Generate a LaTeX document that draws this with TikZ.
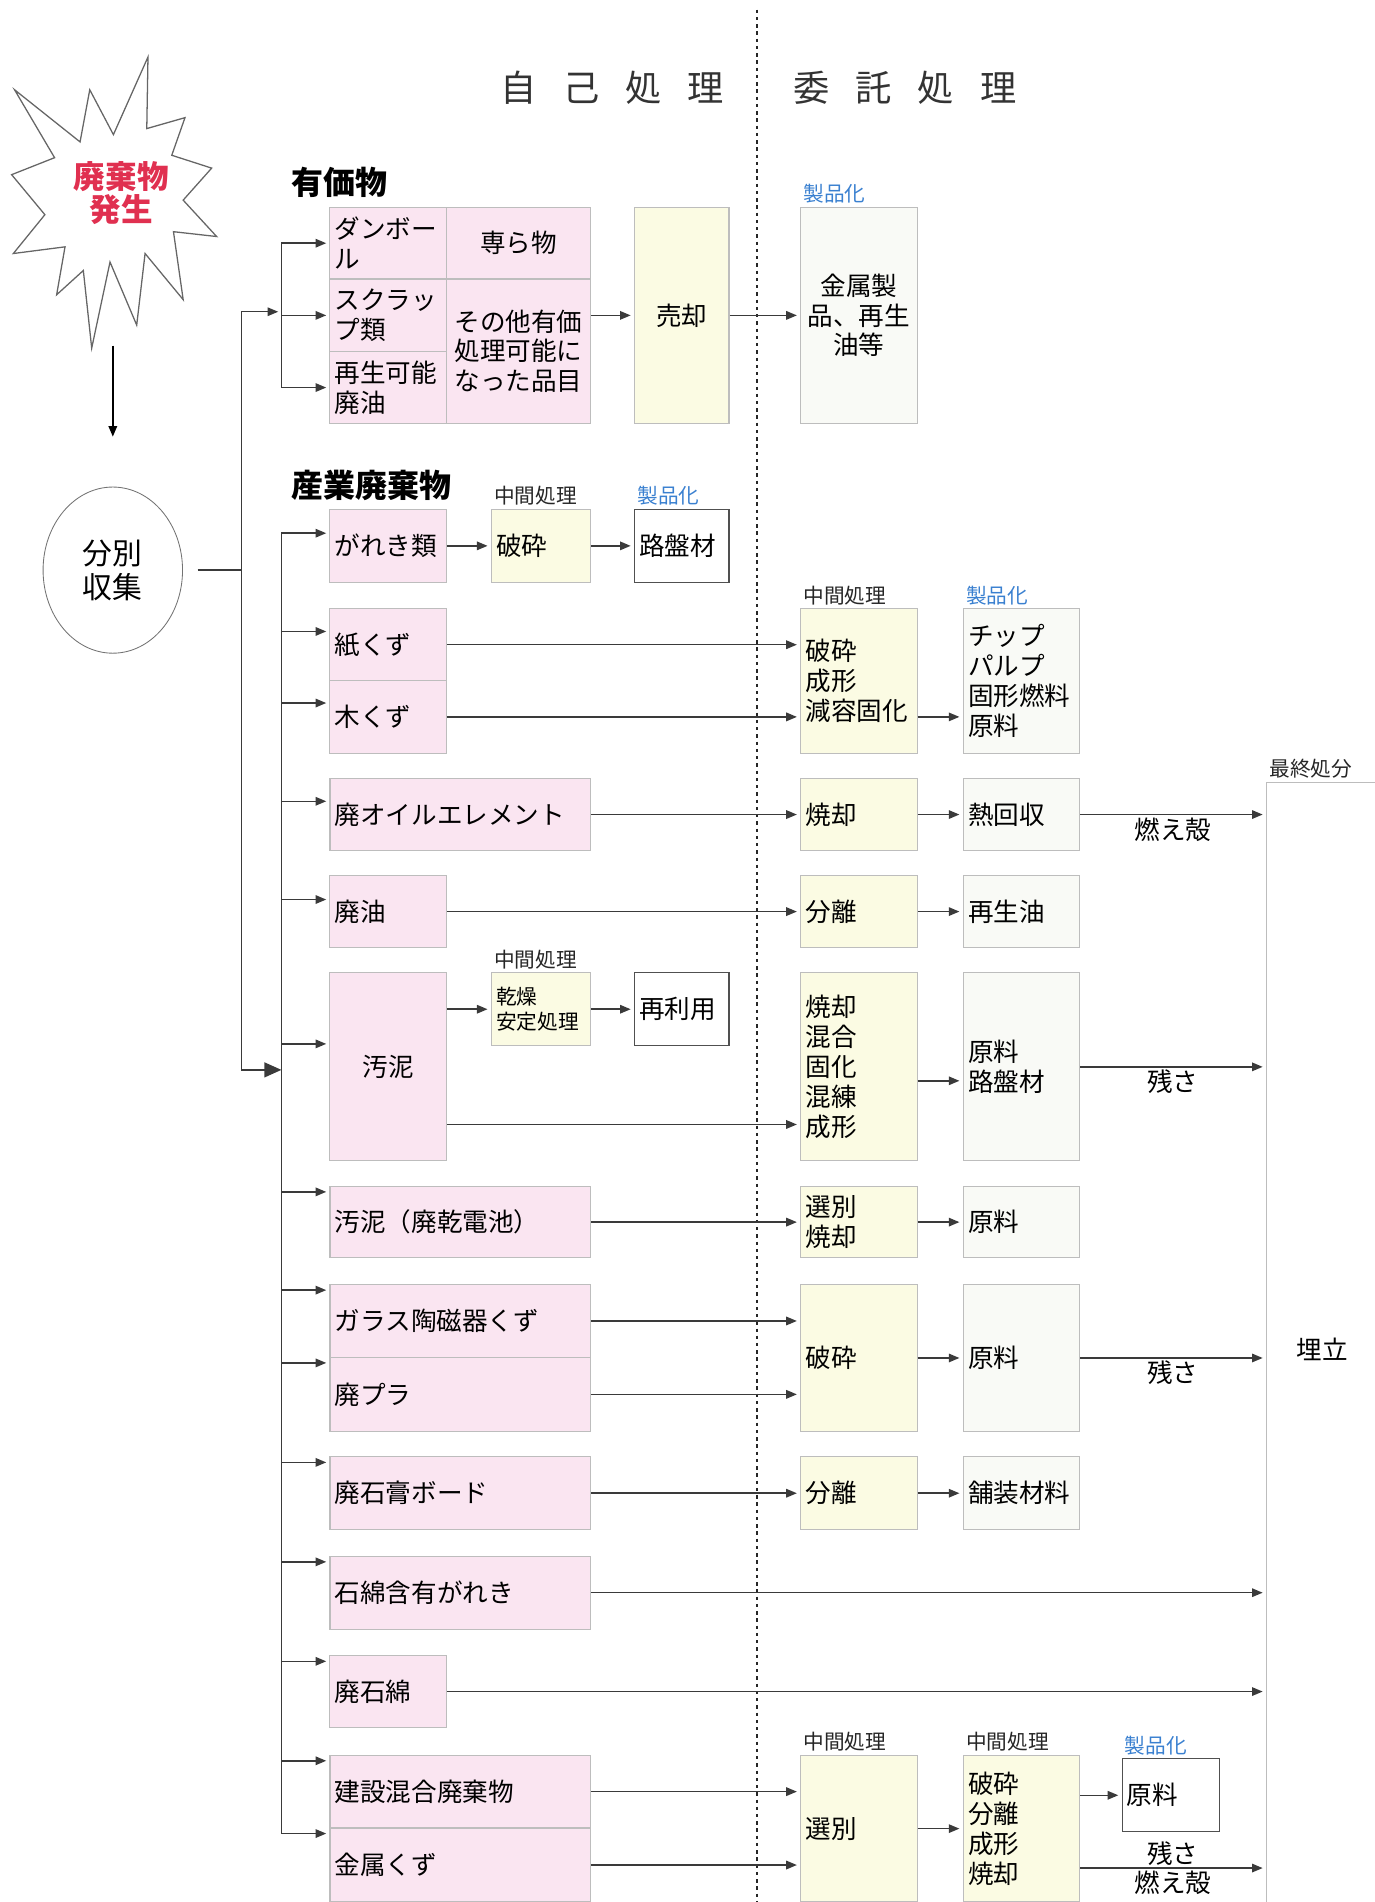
\documentclass[tikz,border=0pt]{standalone}
\usepackage{fontspec}
\setmainfont{Noto Sans CJK JP}
\usepackage{xcolor}
\usetikzlibrary{arrows.meta,positioning,shapes.geometric,calc}

\definecolor{pinkfill}{HTML}{FAE5F1}
\definecolor{yelfill}{HTML}{FBFBE3}
\definecolor{grayfill}{HTML}{F9FAF6}
\definecolor{boxline}{HTML}{BDBDBD}
\definecolor{darkline}{HTML}{505050}
\definecolor{linec}{HTML}{3A3A3A}
\definecolor{burstred}{HTML}{E03050}
\definecolor{prodblue}{HTML}{3A80D0}
\definecolor{headgray}{HTML}{333333}

\newcommand{\mainsize}{\fontsize{12}{14}\selectfont}
\newcommand{\subsize}{\fontsize{9.7}{11}\selectfont}

\tikzset{
  cell/.style={draw=boxline, line width=0.5pt, inner sep=0.08cm, align=left, font=\mainsize},
  pk/.style={cell, fill=pinkfill},
  yl/.style={cell, fill=yelfill},
  gr/.style={cell, fill=grayfill},
  wt/.style={cell, draw=darkline, fill=white},
  narrowcol/.style={text width=1.76cm},
  widecol/.style={text width=4.14cm},
  conn/.style={draw=linec, line width=0.7pt},
  flow/.style={conn, ->, shorten >=1.5pt},
  subtag/.style={font=\subsize, inner sep=0.05cm, text=black!85},
  prodtag/.style={subtag, text=prodblue},
  edgelab/.style={font=\mainsize, inner sep=1pt},
  secttitle/.style={font=\fontsize{15}{17}\selectfont\bfseries, anchor=west},
  colhead/.style={font=\fontsize{17}{20}\selectfont, text=headgray},
}

\begin{document}
\begin{tikzpicture}[x=0.02cm,y=-0.02cm,>={Triangle[length=5pt,width=4pt]}]
  \useasboundingbox (0,0) rectangle (1133,1568);

  % column heads
  \node[colhead] (self) at (505,72) {自\hskip.72em 己\hskip.72em 処\hskip.72em 理};
  \node[colhead] (outs) at (746,72) {委\hskip.72em 託\hskip.72em 処\hskip.72em 理};
  \draw[line width=1.1pt, dash pattern=on 1.6pt off 1.8pt, draw=black!85] (624,8) -- (624,1570);

  % burst
  \draw[black!60, line width=0.6pt] (12,74) -- (66,117) -- (74,74) -- (93.5,111) -- (122,47) -- (121,106)
    -- (152.5,97) -- (141.6,128) -- (174.5,138.6) -- (151,165) -- (178.6,195) -- (143,191)
    -- (151,247) -- (119.6,209) -- (112.7,268) -- (90.7,216) -- (75.6,287) -- (68.7,223)
    -- (46.7,243) -- (53.6,203.5) -- (11,209) -- (37,177) -- (9.6,144) -- (45,130) -- cycle;
  \node[font=\fontsize{14.8}{15.4}\selectfont\bfseries, text=burstred, align=center] (burst) at (100,159) {廃棄物\\発生};
  \coordinate (down1) at (93,285);
  \coordinate (down2) at (93,360);
  \draw[->, black, line width=0.8pt] (down1) -- (down2);

  \node[draw=black!55, ellipse, minimum width=2.3cm, minimum height=2.74cm, inner sep=0pt,
        font=\fontsize{14}{16}\selectfont, align=center] (clt) at (93,470) {分別\\収集};

  % trunk
  \coordinate (tr1) at (199,257);
  \coordinate (tr2) at (199,882);
  \coordinate (br1) at (232,257);
  \coordinate (br2) at (232,882);

  % valuables
  \node[secttitle] (valtitle) at (234,150) {有価物};
  \node[pk, narrowcol, minimum height=1.18cm] (dan) at (320,200.5) {ダンボー\\ル};
  \node[pk, narrowcol, minimum height=1.20cm] (scr) at (320,260) {スクラッ\\プ類};
  \node[pk, narrowcol, minimum height=1.18cm] (oil0) at (320,319.5) {再生可能\\廃油};
  \node[pk, align=center, text width=2.22cm, minimum height=1.18cm] (senpu) at (427.5,200.5) {専ら物};
  \node[pk, align=center, text width=2.22cm, minimum height=2.38cm] (other) at (427.5,289.5) {その他有価\\処理可能に\\なった品目};
  \node[yl, align=center, text width=1.40cm, minimum height=3.56cm] (sell) at (562,260) {売却};
  \node[gr, align=center, narrowcol, minimum height=3.56cm] (goods) at (708,260) {金属製\\品、再生\\油等};
  \node[prodtag, above right=0pt and 0pt of goods.north west] (p0) {製品化};

  % industrial waste
  \node[secttitle] (indtitle) at (234,400) {産業廃棄物};
  \node[pk, narrowcol, minimum height=1.2cm] (gareki) at (320,450) {がれき類};
  \node[yl, text width=1.48cm, minimum height=1.2cm] (crush1) at (446,450) {破砕};
  \node[wt, text width=1.40cm, minimum height=1.2cm] (road1) at (562,450) {路盤材};
  \node[subtag, above right=0pt and 0pt of crush1.north west] (m1) {中間処理};
  \node[prodtag, above right=0pt and 0pt of road1.north west] (p1) {製品化};

  \node[pk, narrowcol, minimum height=1.18cm] (paper) at (320,531.5) {紙くず};
  \node[pk, narrowcol, minimum height=1.2cm] (wood) at (320,591) {木くず};
  \node[yl, narrowcol, minimum height=2.38cm] (mold1) at (708,561.5) {破砕\\成形\\減容固化};
  \node[gr, narrowcol, minimum height=2.38cm] (chip) at (842,561.5) {チップ\\パルプ\\固形燃料\\原料};
  \node[subtag, above right=0pt and 0pt of mold1.north west] (m2) {中間処理};
  \node[prodtag, above right=0pt and 0pt of chip.north west] (p2) {製品化};

  \node[pk, widecol, minimum height=1.18cm] (element) at (379.5,671.5) {廃オイルエレメント};
  \node[yl, narrowcol, minimum height=1.18cm] (burn1) at (708,671.5) {焼却};
  \node[gr, narrowcol, minimum height=1.18cm] (heat) at (842,671.5) {熱回収};

  \node[pk, narrowcol, minimum height=1.18cm] (wasteoil) at (320,751.5) {廃油};
  \node[yl, narrowcol, minimum height=1.18cm] (sep1) at (708,751.5) {分離};
  \node[gr, narrowcol, minimum height=1.18cm] (reoil) at (842,751.5) {再生油};

  \node[pk, narrowcol, align=center, minimum height=3.1cm] (sludge) at (320,879.5) {汚泥};
  \node[yl, text width=1.48cm, minimum height=1.2cm, font=\fontsize{9.7}{12}\selectfont] (dry) at (446,832) {乾燥\\安定処理};
  \node[wt, text width=1.40cm, minimum height=1.2cm] (reuse) at (562,832) {再利用};
  \node[subtag, above right=0pt and 0pt of dry.north west] (m3) {中間処理};
  \node[yl, narrowcol, minimum height=3.1cm] (mix) at (708,879.5) {焼却\\混合\\固化\\混練\\成形};
  \node[gr, narrowcol, minimum height=3.1cm] (base) at (842,879.5) {原料\\路盤材};

  \node[pk, widecol, minimum height=1.18cm] (battery) at (379.5,1007.5) {汚泥（廃乾電池）};
  \node[yl, narrowcol, minimum height=1.18cm] (sortburn) at (708,1007.5) {選別\\焼却};
  \node[gr, narrowcol, minimum height=1.18cm] (raw1) at (842,1007.5) {原料};

  \node[pk, widecol, minimum height=1.2cm] (glass) at (379.5,1089) {ガラス陶磁器くず};
  \node[pk, widecol, minimum height=1.22cm] (plastic) at (379.5,1149.5) {廃プラ};
  \node[yl, narrowcol, minimum height=2.42cm] (crush2) at (708,1119.5) {破砕};
  \node[gr, narrowcol, minimum height=2.42cm] (raw2) at (842,1119.5) {原料};

  \node[pk, widecol, minimum height=1.2cm] (gypsum) at (379.5,1231) {廃石膏ボード};
  \node[yl, narrowcol, minimum height=1.2cm] (sep2) at (708,1231) {分離};
  \node[gr, narrowcol, minimum height=1.2cm] (pave) at (842,1231) {舗装材料};

  \node[pk, widecol, minimum height=1.2cm] (asb1) at (379.5,1313) {石綿含有がれき};
  \node[pk, narrowcol, minimum height=1.18cm] (asb2) at (320,1394.5) {廃石綿};

  \node[pk, widecol, minimum height=1.2cm] (mixed) at (379.5,1477) {建設混合廃棄物};
  \node[pk, widecol, minimum height=1.22cm] (metal2) at (379.5,1537.5) {金属くず};
  \node[yl, narrowcol, minimum height=2.42cm] (sort2) at (708,1507.5) {選別};
  \node[yl, narrowcol, minimum height=2.42cm] (proc2) at (842,1507.5) {破砕\\分離\\成形\\焼却};
  \node[wt, text width=1.44cm, minimum height=1.2cm] (raw3) at (965,1480) {原料};
  \node[subtag, above right=0pt and 0pt of sort2.north west] (m4) {中間処理};
  \node[subtag, above right=0pt and 0pt of proc2.north west] (m5) {中間処理};
  \node[prodtag, above right=0pt and 0pt of raw3.north west] (p3) {製品化};

  % final disposal
  \node[cell, fill=white, align=center, text width=1.68cm, minimum height=18.7cm] (final) at (1090,1112.5) {埋立};
  \node[subtag, above right=0pt and 0pt of final.north west] (fin) {最終処分};

  % connectors
  \draw[conn] ([xshift=0.24cm]clt.east) -- (clt.east -| tr1);
  \draw[conn] (tr1) -- (tr2);
  \draw[flow] (tr1) -- (br1);
  \draw[conn, -{Triangle[length=8pt,width=7pt]}] (tr2) -- (br2);

  \draw[conn] (br1 |- dan.west) -- (br1 |- oil0.west);
  \foreach \n in {dan,scr,oil0}
    \draw[flow] (br1 |- \n.west) -- (\n.west);
  \draw[flow] (other.east |- scr.east) -- (sell.west |- scr.east);
  \draw[flow] (sell.east |- scr.east) -- (goods.west |- scr.east);

  \draw[conn] ($(br2 |- gareki.north)+(0,20)$) -- ($(br2 |- metal2.north)+(0,5)$);
  \foreach \n/\d in {gareki/20,paper/19,wood/19,element/19,wasteoil/20,sludge/59,battery/5,
                     glass/5,plastic/5,gypsum/5,asb1/5,asb2/5,mixed/5,metal2/5}
    \draw[flow] ($(br2 |- \n.north)+(0,\d)$) -- ($(\n.north west)+(0,\d)$);

  \draw[flow] (gareki) -- (crush1);
  \draw[flow] (crush1) -- (road1);
  \draw[flow] (paper.east) -- (paper.east -| mold1.west);
  \draw[flow] (wood.east) -- (wood.east -| mold1.west);
  \draw[flow] (mold1.east |- wood.east) -- (chip.west |- wood.east);
  \draw[flow] (element) -- (burn1);
  \draw[flow] (burn1) -- (heat);
  \draw[flow] (heat) -- node[edgelab, below] {燃え殻} (heat.east -| final.west);
  \draw[flow] (wasteoil) -- (sep1);
  \draw[flow] (sep1) -- (reoil);
  \draw[flow] (sludge.east |- dry.west) -- (dry.west);
  \draw[flow] (dry) -- (reuse);
  \draw[flow] ($(sludge.east)+(0,47.5)$) -- ($(sludge.east -| mix.west)+(0,47.5)$);
  \draw[flow] ($(mix.east)+(0,11.5)$) -- ($(mix.east -| base.west)+(0,11.5)$);
  \draw[flow] (base) -- node[edgelab, below] {残さ} (base.east -| final.west);
  \draw[flow] (battery) -- (sortburn);
  \draw[flow] (sortburn) -- (raw1);
  \draw[flow] (glass.east) -- (glass.east -| crush2.west);
  \draw[flow] (plastic.east) -- (plastic.east -| crush2.west);
  \draw[flow] (crush2) -- (raw2);
  \draw[flow] (raw2) -- node[edgelab, below] {残さ} (raw2.east -| final.west);
  \draw[flow] (gypsum) -- (sep2);
  \draw[flow] (sep2) -- (pave);
  \draw[flow] (asb1.east) -- (asb1.east -| final.west);
  \draw[flow] (asb2.east) -- (asb2.east -| final.west);
  \draw[flow] (mixed.east) -- (mixed.east -| sort2.west);
  \draw[flow] (metal2.east) -- (metal2.east -| sort2.west);
  \draw[flow] (sort2) -- (proc2);
  \draw[flow] (proc2.east |- raw3.west) -- (raw3.west);
  \draw[flow] ($(proc2.east)+(0,32.5)$) -- node[edgelab, above] {残さ} node[edgelab, below] {燃え殻}
    ($(proc2.east -| final.west)+(0,32.5)$);
\end{tikzpicture}
\end{document}
